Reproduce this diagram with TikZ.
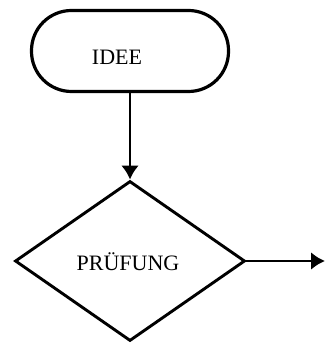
\documentclass[tikz,border=0pt]{standalone}
\usepackage{fontspec}
\setmainfont{Liberation Serif}
\usetikzlibrary{shapes.geometric,arrows.meta}
\begin{document}
\begin{tikzpicture}[x=1pt,y=-1pt,
  outline/.style={draw, line width=3.2pt, inner sep=0pt},
  label/.style={font=\fontsize{22}{25}\selectfont},
  flow/.style={line width=2.8pt, -{Latex[length=14pt,width=18pt]}}]
\useasboundingbox (0,0) rectangle (325,344);
% start terminal
\node[outline, rounded corners=40pt, minimum width=197pt, minimum height=81pt] (idee) at (130,51) {};
\node[label] (ideetext) at (117,57) {IDEE};
% decision
\node[outline, line width=2.9pt, diamond, minimum width=230pt, minimum height=160pt] (pruef) at (130,261) {};
\node[label] (prueftext) at (128,262) {PRÜFUNG};
\coordinate (out) at (325,260);
% connectors
\draw[flow] (idee.south) -- (pruef.north);
\draw[flow] (pruef.east) -- (pruef.east -| out);
\end{tikzpicture}
\end{document}
